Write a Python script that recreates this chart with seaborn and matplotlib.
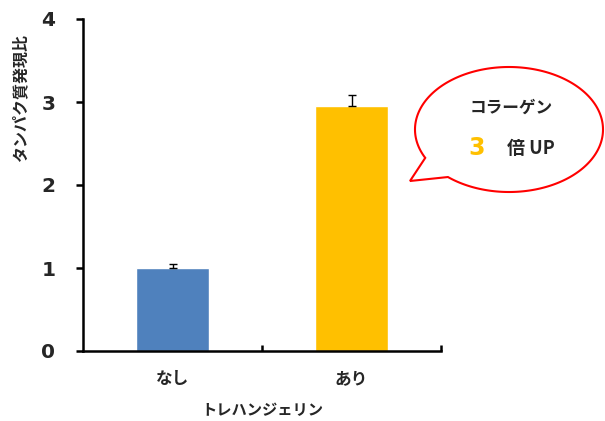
import numpy as np
import pandas as pd
import matplotlib
matplotlib.use("Agg")
import matplotlib.pyplot as plt
import seaborn as sns
from matplotlib.patches import Polygon

categories = ["なし", "あり"]
values = [1.0, 2.95]
errors = [0.05, 0.13]
colors = ["#4F81BD", "#FFC000"]
yticks = [0, 1, 2, 3, 4]
xlabel = "トレハンジェリン"
ylabel = "タンパク質発現比"
bubble_line1 = "コラーゲン"
bubble_num = "3"
bubble_rest = "倍 UP"

sns.set_style("white")
plt.rcParams['font.family'] = ['Noto Sans CJK JP', 'DejaVu Sans']

fig = plt.figure(figsize=(6.05, 4.21), dpi=100)
ax = fig.add_axes([83/605, 70/421, 358/605, 332/421])

df = pd.DataFrame({"cat": categories, "val": values})
sns.barplot(data=df, x="cat", y="val", hue="cat", palette=colors, legend=False,
            width=0.41, errorbar=None, ax=ax, saturation=1)
ax.errorbar(np.arange(len(values)), values, yerr=[np.zeros(len(errors)), errors],
            fmt="none", ecolor="black", elinewidth=1, capsize=3, capthick=1)

ax.set_xlim(-0.5, 1.5)
ax.set_ylim(0, 4)
ax.set_yticks(yticks)
ax.set_yticklabels([str(t) for t in yticks], fontsize=14.5, fontweight="bold", family="DejaVu Sans")
ax.tick_params(axis="y", direction="out", length=5, width=1.8, pad=15, left=True, color="black")
ax.tick_params(axis="x", which="major", length=0, pad=14)
ax.set_xticks([0.5, 1.5], minor=True)
ax.tick_params(axis="x", which="minor", direction="in", length=4, width=1.8, bottom=True, color="black")
for lab in ax.get_xticklabels():
    lab.set_fontsize(12)
    lab.set_fontweight("bold")

for s in ["top", "right"]:
    ax.spines[s].set_visible(False)
for s in ["left", "bottom"]:
    ax.spines[s].set_color("black")
    ax.spines[s].set_linewidth(1.8)

ax.set_xlabel(xlabel, fontsize=11, fontweight="bold", va="center")
ax.xaxis.set_label_coords(0.5, -0.177)
ax.set_ylabel(ylabel, fontsize=11.5, fontweight="bold", va="center")
ax.yaxis.set_label_coords(-0.176, 0.763)

# speech bubble overlay in pixel coordinates
ov = fig.add_axes([0, 0, 1, 1], zorder=5)
ov.set_xlim(0, 605)
ov.set_ylim(421, 0)
ov.axis("off")
ov.patch.set_alpha(0)
cx, cy, a, b = 509, 129.5, 94, 62.5
t = np.deg2rad(np.linspace(153, 130.5 + 360, 300))
pts = np.column_stack([cx + a*np.cos(t), cy + b*np.sin(t)])
pts = np.vstack([pts, [[410, 181]]])
ov.add_patch(Polygon(pts, closed=True, facecolor="white", edgecolor="#FF0000", linewidth=1.5))
ov.text(511, 108, bubble_line1, fontsize=12, fontweight="bold", ha="center", va="center")
ov.text(477, 148, bubble_num, fontsize=17, fontweight="bold", color="#FFC000",
        ha="center", va="center", family="DejaVu Sans")
ov.text(531, 148, bubble_rest, fontsize=13, fontweight="bold", ha="center", va="center")

fig.savefig("out.png", dpi=100)
